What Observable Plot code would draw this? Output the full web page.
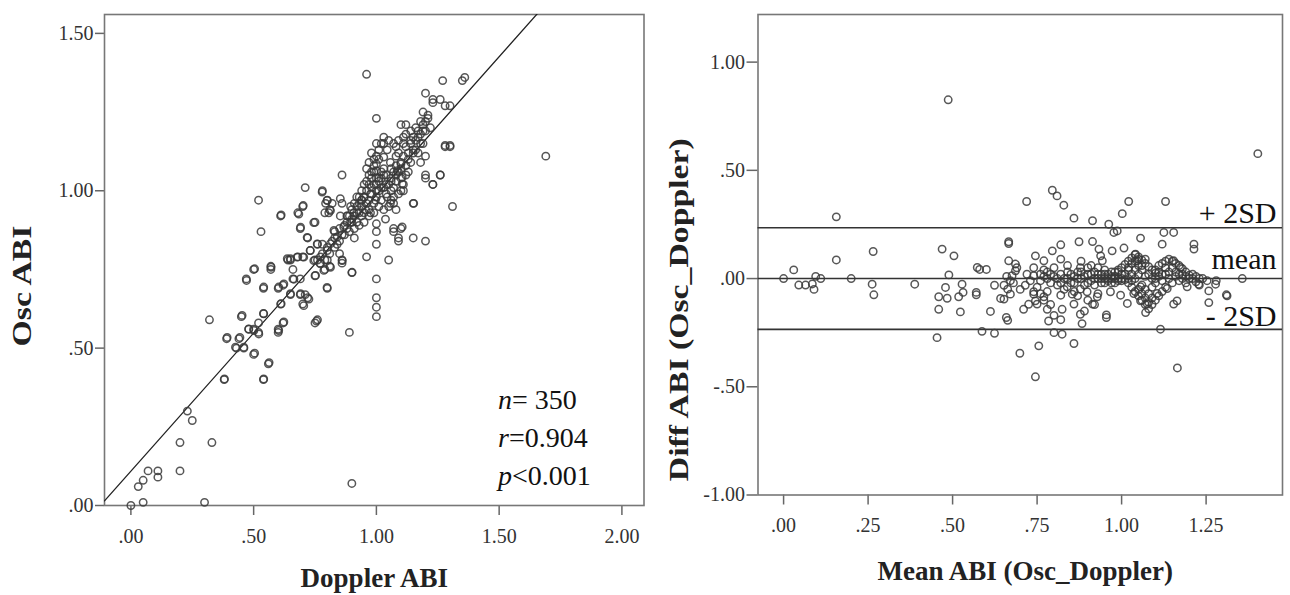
<!DOCTYPE html>
<html><head><meta charset="utf-8">
<script src="https://cdn.jsdelivr.net/npm/d3@7"></script>
<script src="https://cdn.jsdelivr.net/npm/@observablehq/plot@0.6"></script>
<style>
body{margin:0;background:#fff;}
#wrap{position:relative;width:1290px;height:595px;overflow:hidden;background:#fff;}
#left{position:absolute;left:0;top:0;}
#right{position:absolute;left:650px;top:0;}
</style></head><body><div id="wrap"><div id="left"></div><div id="right"></div></div>
<script>
// ---- Data: left panel (Doppler ABI, Osc ABI) ----
const oscVsDoppler = [
[0.00,0.00],[0.05,0.01],[0.30,0.01],[0.03,0.06],[0.05,0.08],[0.07,0.11],[0.11,0.11],[0.11,0.09],[0.20,0.11],[0.20,0.20],
[0.33,0.20],[0.23,0.30],[0.25,0.27],[0.90,0.07],[0.38,0.40],[0.54,0.40],[0.56,0.45],[0.32,0.59],[0.39,0.53],[0.43,0.50],
[0.46,0.50],[0.44,0.53],[0.50,0.48],[0.48,0.56],[0.50,0.56],[0.52,0.55],[0.45,0.60],[0.54,0.61],[0.52,0.58],[0.60,0.56],
[0.60,0.55],[0.62,0.58],[0.76,0.59],[0.75,0.58],[0.61,0.64],[0.70,0.64],[0.72,0.66],[0.65,0.67],[0.69,0.67],[0.62,0.70],
[0.60,0.69],[0.54,0.69],[0.47,0.72],[0.50,0.75],[0.57,0.76],[0.57,0.75],[0.66,0.72],[0.75,0.73],[0.80,0.69],[0.52,0.97],
[0.53,0.87],[0.61,0.92],[0.68,0.93],[0.70,0.95],[0.71,1.01],[0.69,0.88],[0.72,0.85],[0.75,0.90],[0.78,1.00],[0.80,0.97],
[0.81,0.94],[0.79,0.93],[0.76,0.83],[0.73,0.81],[0.70,0.79],[0.65,0.78],[0.64,0.78],[0.68,0.79],[0.75,0.78],[0.77,0.77],
[0.80,0.78],[0.81,0.76],[0.79,0.75],[0.86,0.78],[0.90,0.74],[0.96,0.79],[1.05,0.78],[1.00,0.87],[1.00,0.83],[1.00,0.72],
[1.00,0.66],[1.00,0.63],[1.00,0.60],[1.07,0.87],[1.10,0.88],[1.09,0.84],[1.08,0.94],[0.89,0.55],[0.86,1.05],[0.96,1.07],
[0.71,0.67],[0.69,0.72],[0.66,0.75],[0.83,0.85],[0.85,0.80],[0.86,0.77],[0.88,0.90],[0.91,0.85],[0.92,0.93],[0.94,0.95],
[0.86,0.96],[0.90,0.91],[1.15,0.85],[1.20,0.84],[1.15,0.96],[1.69,1.11],[1.31,0.95],[1.23,1.02],[1.26,1.05],[1.20,1.04],
[1.28,1.14],[1.30,1.14],[1.36,1.36],[1.35,1.35],[1.27,1.35],[1.20,1.31],[1.23,1.28],[1.26,1.29],[1.28,1.27],[1.30,1.27],
[1.00,1.23],[1.10,1.21],[1.12,1.21],[0.96,1.37],[1.23,1.29],[1.19,1.25],[1.21,1.23],[1.22,1.20],[1.19,1.19],[1.17,1.17],
[1.14,1.16],[1.11,1.15],[1.00,1.15],[1.03,1.15],[1.08,1.14],[1.18,1.15],[1.20,1.11],[1.18,1.09],[1.15,1.12],[1.13,1.10],
[1.10,1.085],[1.085,1.064],[1.105,1.043],[1.105,1.022],[1.10,1.00],[1.07,1.01],[1.06,1.04],[1.03,1.05],[1.00,1.085],[1.00,1.064],
[1.01,1.03],[1.02,1.01],[1.00,1.00],[0.98,1.01],[0.976,0.99],[0.95,0.98],[0.96,0.96],[0.94,0.97],[0.92,0.95],[0.956,0.94],
[0.976,0.93],[0.996,0.97],[1.044,0.98],[1.057,0.96],[1.07,0.98],[1.03,1.107],[1.057,1.09],[1.044,1.13],[1.11,1.17],[0.895,0.95],
[0.908,0.93],[0.882,0.92],[0.895,0.90],[0.867,0.885],[0.853,0.92],[0.853,0.975],[0.84,0.853],[0.827,0.874],[0.813,0.832],[0.80,0.81],
[0.78,0.83],[0.772,0.79],[0.76,0.78],[0.806,0.93],[0.793,0.96],[0.82,0.96],[1.00,0.895],[1.037,0.91],[1.07,0.88],[1.105,0.885],
[1.09,0.85],[1.152,0.96],[1.20,1.05],[1.23,1.02],[1.26,1.05],[1.28,1.144],[1.30,1.144],[0.612,0.923],[0.684,0.926],[0.702,0.953],
[0.691,0.884],[0.718,0.852],[0.745,0.899],[0.779,0.996],[0.799,0.969],[0.813,0.937],[0.759,0.831],[0.731,0.81],[0.704,0.789],[0.65,0.784],
[0.637,0.784],[0.677,0.789],[0.745,0.778],[0.772,0.768],[0.813,0.757],[0.786,0.747],[0.752,0.731],[0.799,0.693],[0.861,0.778],[0.901,0.741],
[0.664,0.719],[0.571,0.757],[0.504,0.752],[0.471,0.715],[0.541,0.694],[0.602,0.694],[0.623,0.704],[0.65,0.673],[0.691,0.673],[0.704,0.635],
[0.725,0.656],[0.612,0.641],[0.623,0.583],[0.602,0.556],[0.756,0.586],[0.541,0.609],[0.521,0.545],[0.453,0.604],[0.48,0.561],[0.501,0.556],
[0.444,0.534],[0.392,0.534],[0.426,0.503],[0.46,0.503],[0.504,0.484],[0.563,0.454],[0.541,0.402],[0.381,0.402],
[0.88,0.88],[0.90,0.90],[0.91,0.92],[0.93,0.96],[0.94,0.92],[0.95,0.98],[0.96,1.00],[0.97,0.97],[0.97,1.02],[0.98,0.99],
[0.98,1.04],[0.99,0.96],[0.99,1.06],[1.00,0.98],[1.00,1.02],[1.01,1.00],[1.01,1.10],[1.02,1.04],[1.02,0.97],[1.03,1.01],
[1.03,1.07],[1.04,0.99],[1.04,1.05],[1.05,1.02],[1.06,1.07],[1.06,1.00],[1.07,1.06],[1.08,1.11],[1.08,1.03],[1.08,1.08],
[1.09,1.06],[1.09,1.12],[1.10,1.09],[1.10,1.04],[1.11,1.11],[1.12,1.08],[1.12,1.14],[1.13,1.12],[1.14,1.15],[1.15,1.13],
[1.15,1.17],[1.16,1.16],[1.17,1.19],[1.18,1.18],[1.19,1.21],[1.20,1.22],[1.20,1.19],[1.21,1.24],[1.19,1.15],[1.17,1.12],
[1.14,1.09],[1.12,1.05],[0.98,1.12],[1.02,1.15],[0.97,1.09],[0.99,1.10],[0.78,0.80],[0.80,0.82],[0.82,0.84],[0.83,0.87],
[0.84,0.83],[0.85,0.88],[0.86,0.86],[0.87,0.89],[0.88,0.92],[0.89,0.87],[0.90,0.94],[0.92,0.90],[0.93,0.93],[0.94,0.97],
[0.93,0.98],[0.95,1.02],[0.97,1.05],[0.99,1.08],[1.01,1.13],[1.03,1.17],[1.05,1.16],[1.07,1.15],[1.09,1.16],[1.00,1.04],
[1.02,1.06],[1.04,1.02],[1.06,1.03],[1.08,1.05],[1.10,1.07],[1.11,1.02],[1.09,0.99],[1.07,0.96],[1.05,0.95],[1.03,0.94],
[1.01,0.95],[0.99,0.93],[0.97,0.92],[0.95,0.90],[0.93,0.89],[0.91,0.88],[0.96,1.03],[0.98,1.06],[1.00,1.11],[0.92,0.98],
[0.94,1.00],[1.12,1.18],[1.14,1.19],[1.16,1.20],[1.18,1.22],[1.16,1.13],[1.13,1.06],[1.11,1.00],[1.06,0.97],[0.99,1.02],
[1.01,1.04],[0.97,0.94],[0.95,0.93],[0.91,0.96],[0.89,0.92],[0.87,0.86],[0.85,0.84],[0.83,0.82],[0.81,0.80],[0.79,0.78]
];

// ---- Data: right panel (Mean ABI, Diff ABI) ----
const meanVsDiff = [
[0.00,0.00],[0.03,0.04],[0.045,-0.03],[0.065,-0.03],[0.085,-0.025],[0.09,-0.05],[0.095,0.01],[0.11,0.00],[0.156,0.285],[0.156,0.086],
[0.20,0.00],[0.265,0.125],[0.262,-0.026],[0.267,-0.075],[0.388,-0.026],[0.469,0.136],[0.504,0.105],[0.489,0.017],[0.479,-0.041],[0.459,-0.084],
[0.484,-0.091],[0.459,-0.142],[0.454,-0.273],[0.523,-0.154],[0.528,-0.026],[0.518,-0.084],[0.531,-0.064],[0.573,0.051],[0.580,0.042],[0.600,0.042],
[0.570,-0.064],[0.570,-0.075],[0.612,-0.152],[0.587,-0.244],[0.624,-0.253],[0.624,-0.031],[0.652,-0.031],[0.652,-0.095],[0.642,-0.092],[0.666,0.170],
[0.666,0.162],[0.666,0.082],[0.686,0.067],[0.686,0.036],[0.676,0.013],[0.671,-0.010],[0.663,-0.049],[0.671,-0.072],[0.659,-0.180],[0.663,-0.193],
[0.699,-0.345],[0.745,-0.454],[0.719,0.356],[0.745,0.105],[0.715,-0.031],[0.740,0.013],[0.740,-0.072],[0.710,-0.142],[0.725,-0.119],[0.745,-0.103],
[0.755,-0.311],[0.487,0.826],[1.403,0.577],
[0.795,0.408],[0.809,0.382],[0.829,0.339],[0.859,0.279],[0.914,0.267],[0.962,0.251],[0.977,0.213],[0.987,0.220],[1.002,0.300],[1.021,0.356],
[1.130,0.356],[1.125,0.213],[1.154,0.213],[1.120,0.159],[1.056,0.187],[1.007,0.141],[0.972,0.128],[0.933,0.136],[0.914,0.171],[0.874,0.170],
[0.820,0.156],[0.795,0.128],[0.770,0.082],[0.820,0.090],[0.878,0.050],[0.938,0.105],[0.943,0.082],[1.214,0.159],[1.214,0.136],[1.041,0.113],
[1.046,0.082],[1.154,0.082],[1.174,0.051],[1.021,0.051],[1.312,-0.080],[1.278,-0.026],[1.258,-0.057],[1.253,-0.010],[1.357,0.000],[1.258,-0.111],
[1.164,-0.103],[1.154,-0.118],[1.115,-0.234],[1.071,-0.157],[1.076,-0.118],[1.056,-0.103],[1.017,-0.115],[0.955,-0.168],[0.955,-0.180],[0.914,-0.118],
[0.878,-0.049],[0.878,-0.165],[0.883,-0.208],[0.859,-0.118],[0.854,-0.072],[0.824,-0.142],[0.824,-0.257],[0.800,-0.250],[0.784,-0.196],[0.859,-0.300],
[0.780,-0.142],[0.750,-0.118],[0.740,-0.061],[0.770,-0.084],[0.820,-0.077],[0.839,-0.038],[0.898,-0.061],[0.928,-0.084],[0.967,-0.061],[0.997,-0.077],
[1.036,-0.069],[1.056,-0.038],[1.105,-0.069],[1.135,-0.046],[1.194,-0.038],[1.228,-0.026],[1.28,-0.010],[1.31,-0.075],[1.165,-0.413],
[0.76,0.02],[0.77,0.04],[0.78,0.03],[0.78,0.00],[0.79,-0.02],[0.80,0.01],[0.80,0.05],[0.81,-0.03],[0.82,0.02],[0.83,0.00],
[0.83,-0.05],[0.84,0.03],[0.85,-0.02],[0.86,0.01],[0.86,-0.06],[0.87,0.03],[0.88,0.00],[0.89,-0.03],[0.90,0.02],[0.90,0.05],
[0.91,-0.01],[0.92,0.03],[0.93,0.00],[0.93,0.05],[0.94,-0.02],[0.94,0.02],[0.95,0.00],[0.95,0.04],[0.96,-0.01],[0.96,0.02],
[0.97,0.00],[0.97,0.03],[0.98,-0.02],[0.98,0.01],[0.99,0.00],[0.99,0.03],[1.00,-0.01],[1.00,0.02],
[0.99,0.04],[1.00,0.05],[1.01,0.065],[1.02,0.08],[1.03,0.095],[1.04,0.11],[1.05,0.10],[1.06,0.085],[1.07,0.07],[1.08,0.055],[1.09,0.04],[1.10,0.025],
[1.01,-0.005],[1.02,-0.02],[1.03,-0.04],[1.04,-0.06],[1.05,-0.08],[1.06,-0.10],[1.07,-0.12],[1.08,-0.14],[1.09,-0.12],[1.10,-0.10],[1.11,-0.08],[1.12,-0.06],[1.13,-0.04],
[1.10,0.04],[1.11,0.06],[1.12,0.07],[1.13,0.08],[1.14,0.09],[1.15,0.08],[1.16,0.07],[1.17,0.06],[1.18,0.045],[1.19,0.03],[1.20,0.015],[1.21,0.00],[1.22,-0.015],[1.23,-0.03],
[1.10,0.00],[1.11,0.01],[1.12,-0.01],[1.13,0.02],[1.14,0.00],[1.15,-0.02],[1.16,0.01],[1.17,-0.01],[1.18,0.02],[1.19,-0.02],[1.20,0.00],[1.22,0.01],[1.24,0.00],
[0.84,0.06],[0.88,0.08],[0.91,0.06],[0.87,-0.08],[0.90,-0.10],[0.93,-0.07],[0.92,-0.12],[0.89,-0.15],
[0.72,0.02],[0.73,-0.01],[0.74,0.05],[0.75,-0.04],[0.76,-0.07],[0.77,-0.10],[0.78,-0.06],[0.79,-0.12],[0.80,-0.17],[0.82,-0.19],
[0.66,0.01],[0.68,-0.02],[0.69,0.05],[0.70,-0.05],
[0.76,-0.01],[0.77,0.01],[0.79,0.02],[0.81,0.00],[0.82,-0.02],[0.84,0.00],[0.85,0.02],[0.86,-0.02],[0.87,0.00],[0.88,0.03],
[0.89,0.01],[0.90,-0.02],[0.91,0.02],[0.92,0.00],[0.92,-0.03],[0.93,0.02],[0.94,0.00],[0.95,-0.02],[0.95,0.02],[0.96,0.00],
[0.97,-0.02],[0.97,0.01],[0.98,0.00],[0.98,0.03],[0.99,-0.01],[1.00,0.00],[1.01,0.02],[1.02,0.00],[1.02,0.04],[1.03,0.02],
[1.03,-0.01],[1.04,0.04],[1.04,0.00],[1.05,0.06],[1.05,0.02],[1.06,0.04],[1.06,-0.03],[1.07,0.01],[1.07,-0.05],[1.08,0.02],
[1.08,-0.07],[1.09,0.00],[1.09,-0.04],[1.10,-0.02],[1.11,0.03],[1.12,0.02],[1.13,0.05],[1.14,0.03],[1.15,0.05],[1.16,0.03],
[1.17,0.02],[1.18,0.00],[1.19,0.01],[1.21,0.02],[1.23,0.00],[1.05,0.09],[1.04,0.08],[1.06,0.06],[1.07,0.09],[1.03,0.07],
[1.06,-0.07],[1.07,-0.09],[1.05,-0.05],[1.08,-0.11],[1.09,-0.09]
];

// ---- Tick values, annotations ----
const leftXTicks = [0, 0.5, 1, 1.5, 2];
const leftYTicks = [0, 0.5, 1, 1.5];
const rightXTicks = [0, 0.25, 0.5, 0.75, 1, 1.25];
const rightYTicks = [-1, -0.5, 0, 0.5, 1];
const regression = {intercept: 0.109, slope: 0.878};
const stats = ["n= 350", "r=0.904", "p<0.001"];
const limitLabels = ["+ 2SD", "mean", "- 2SD"];
const limitValues = [0.235, 0.0, -0.235];

const serif = "'Liberation Serif','Times New Roman',serif";
const fmt = d => (d < 0 ? "-" : "") + Math.abs(d).toFixed(2).replace(/^0\./, ".");

// stretch rotated titles along their length, as in the source figure
function stretchVertical(svg) {
  d3.select(svg).selectAll("g.vtitle text").each(function() {
    const t = this.getAttribute("transform") || "";
    this.setAttribute("transform", t + " scale(1.25,1)");
  });
}

// ---- Left panel ----
const leftXDomain = [-0.1075, 2.09];
const leftYDomain = [0, 1.56];
const regLine = leftXDomain.map(x => ({x, y: regression.intercept + regression.slope * x}));

const dotStyle = {r: 3.7, stroke: "#3a3a3a", strokeOpacity: 0.85, strokeWidth: 1.5, fill: "none"};

const left = Plot.plot({
  width: 650, height: 595,
  marginLeft: 104, marginRight: 6.5, marginTop: 14, marginBottom: 90,
  style: {fontFamily: serif, fontSize: "20px", color: "#333", background: "white", overflow: "visible"},
  x: {domain: leftXDomain},
  y: {domain: leftYDomain},
  marks: [
    Plot.axisX({ticks: leftXTicks, tickFormat: fmt, tickSize: 10, tickPadding: 13, stroke: "#666", strokeWidth: 1.5, label: null}),
    Plot.axisY({ticks: leftYTicks, tickFormat: fmt, tickSize: 9, tickPadding: 2, stroke: "#666", strokeWidth: 1.5, label: null}),
    Plot.frame({stroke: "#777", strokeWidth: 1.6}),
    Plot.line(regLine, {x: "x", y: "y", stroke: "#222", strokeWidth: 1.3, clip: true}),
    Plot.dot(oscVsDoppler, {x: d => d[0], y: d => d[1], ...dotStyle}),
    ...stats.map((s, i) => Plot.text([s], {text: d => d, frameAnchor: "bottom-right", textAnchor: "start", lineAnchor: "middle",
      dx: -146, dy: -105 + i * 38, fontSize: 28, fill: "#111", className: "stat"})),
    Plot.text(["Doppler ABI"], {text: d => d, frameAnchor: "bottom", lineAnchor: "middle", dy: 73, fontSize: 27, fontWeight: "bold", fill: "#222"}),
    Plot.text(["Osc ABI"], {text: d => d, frameAnchor: "left", textAnchor: "middle", lineAnchor: "middle", rotate: -90, dx: -82, dy: 26,
      fontSize: 27, fontWeight: "bold", fill: "#222", className: "vtitle"})
  ]
});
d3.select(left).selectAll("g.stat text").each(function() {
  const t = this.textContent;
  const sel = d3.select(this);
  sel.text(null);
  sel.append("tspan").attr("font-style", "italic").text(t[0]);
  sel.append("tspan").text(t.slice(1));
});
stretchVertical(left);
document.getElementById("left").appendChild(left);

// ---- Right panel ----
const rightXDomain = [-0.0757, 1.476];
const rightYDomain = [-1, 1.22];
const limits = limitLabels.map((label, i) => ({label, value: limitValues[i]}));
const labelDy = [-14, -19, -13];

const right = Plot.plot({
  width: 640, height: 595,
  marginLeft: 107.5, marginRight: 8, marginTop: 14, marginBottom: 100.5,
  style: {fontFamily: serif, fontSize: "20px", color: "#333", background: "white", overflow: "visible"},
  x: {domain: rightXDomain},
  y: {domain: rightYDomain},
  marks: [
    Plot.axisX({ticks: rightXTicks, tickFormat: fmt, tickSize: 10, tickPadding: 13, stroke: "#666", strokeWidth: 1.5, label: null}),
    Plot.axisY({ticks: rightYTicks, tickFormat: fmt, tickSize: 11, tickPadding: 2, stroke: "#666", strokeWidth: 1.5, label: null}),
    Plot.frame({stroke: "#777", strokeWidth: 1.6}),
    Plot.ruleY(limits, {y: "value", stroke: "#333", strokeWidth: 1.6}),
    Plot.dot(meanVsDiff, {x: d => d[0], y: d => d[1], ...dotStyle}),
    ...limits.map((l, i) => Plot.text([l], {y: "value", text: "label", frameAnchor: "right", textAnchor: "end", lineAnchor: "middle",
      dx: -6, dy: labelDy[i], fontSize: 30, fill: "#111"})),
    Plot.text(["Mean ABI (Osc_Doppler)"], {text: d => d, frameAnchor: "bottom", lineAnchor: "middle", dy: 76, dx: 5, fontSize: 27, fontWeight: "bold", fill: "#222"}),
    Plot.text(["Diff ABI (Osc_Doppler)"], {text: d => d, frameAnchor: "left", textAnchor: "middle", lineAnchor: "middle", rotate: -90, dx: -79, dy: 55,
      fontSize: 27, fontWeight: "bold", fill: "#222", className: "vtitle"})
  ]
});
stretchVertical(right);
document.getElementById("right").appendChild(right);
</script>
</body></html>
